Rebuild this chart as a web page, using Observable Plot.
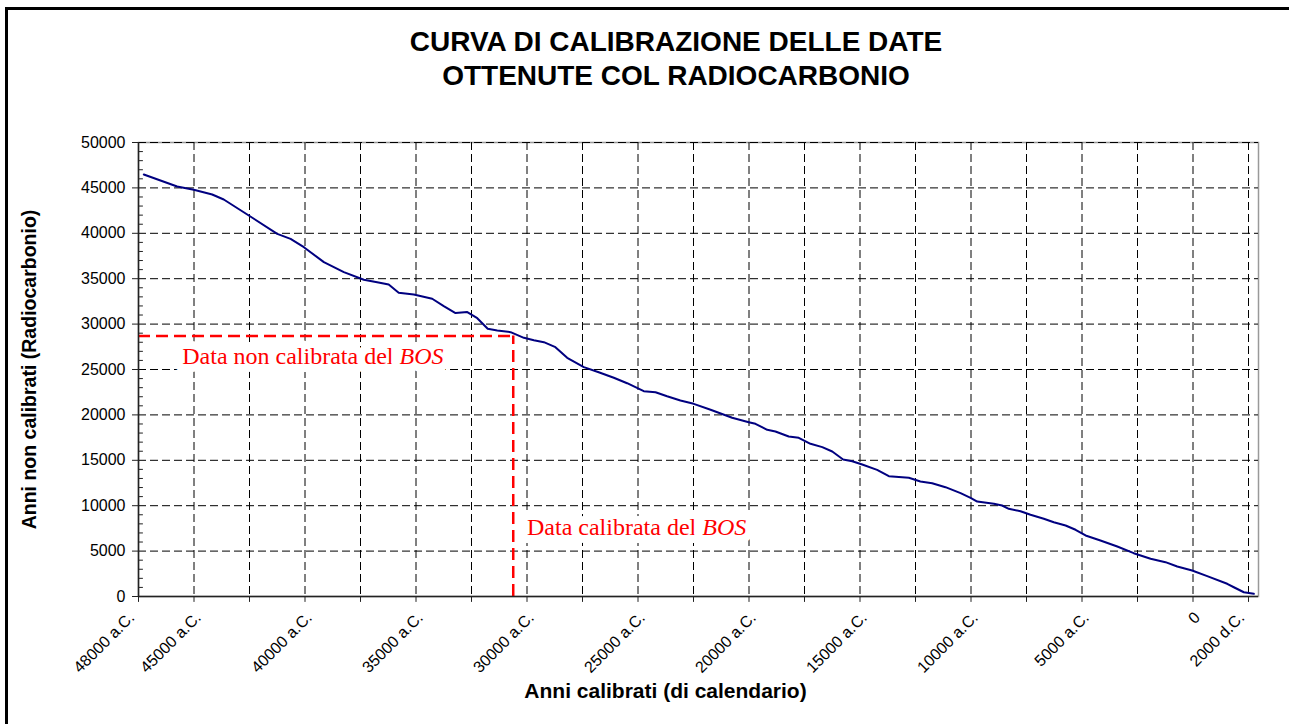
<!DOCTYPE html>
<html>
<head>
<meta charset="utf-8">
<script src="https://cdn.jsdelivr.net/npm/d3@7"></script>
<script src="https://cdn.jsdelivr.net/npm/@observablehq/plot@0.6"></script>
<style>
html, body { margin: 0; padding: 0; background: #fff; overflow: hidden; }
#wrap { position: relative; width: 1289px; height: 724px; overflow: hidden; background: #fff; }
#border { position: absolute; left: 5px; top: 7px; width: 2000px; height: 900px; border: 3px solid #000; box-sizing: border-box; z-index: 5; pointer-events: none; }
#title { position: relative; height: 100px; }
#title div { position: absolute; left: 676px; transform: translateX(-50%); white-space: nowrap;
  font-family: Arial, "Liberation Sans", sans-serif; font-weight: bold; font-size: 28px; line-height: 34px; text-align: center; top: 25px; color: #000; }
#chart svg { display: block; }
</style>
</head>
<body>
<div id="wrap">
  <div id="border"></div>
  <div id="title"><div>CURVA DI CALIBRAZIONE DELLE DATE<br>OTTENUTE COL RADIOCARBONIO</div></div>
  <div id="chart"></div>
</div>
<script>
// Calendar years (negative = a.C.) and uncalibrated radiocarbon years
const calYears = [-47260, -45760, -45010, -44180, -43660, -42460, -41250, -40650, -40050, -39150,
  -38250, -37350, -36750, -36230, -35780, -35100, -34270, -33750, -33220, -32690,
  -32240, -31770, -31340, -30740, -30140, -29690, -29240, -28720, -28190, -27440,
  -26770, -26090, -25490, -24740, -24210, -23690, -23090, -22490, -21730, -20760,
  -20010, -19710, -19180, -18810, -18210, -17760, -17230, -16700, -16250, -15760,
  -15350, -14900, -14230, -13700, -12800, -12280, -11750, -11150, -10470, -10020,
  -9720, -8970, -8600, -8300, -7770, -7320, -6720, -6270, -5740, -5290,
  -4840, -4170, -3410, -2670, -1910, -1240, -710, -40, 640, 1540,
  1840, 2290, 2740];
const radioYears = [46480, 45150, 44790, 44270, 43720, 41850, 39940, 39390, 38470, 36820,
  35720, 34880, 34620, 34360, 33450, 33260, 32790, 31980, 31210, 31320,
  30650, 29480, 29300, 29110, 28490, 28230, 28010, 27460, 26290, 25260,
  24700, 24090, 23490, 22610, 22500, 22060, 21590, 21220, 20560, 19680,
  19200, 19020, 18360, 18170, 17620, 17480, 16820, 16450, 15970, 15090,
  14900, 14540, 13950, 13250, 13070, 12670, 12480, 12040, 11380, 10870,
  10460, 10210, 10020, 9660, 9390, 9000, 8560, 8180, 7820, 7350,
  6720, 6170, 5510, 4770, 4150, 3780, 3300, 2860, 2240, 1400,
  1020, 470, 300];

// BOS date (uncalibrated / calibrated)
const bosRadio = 28700;
const bosCal = -30620;

// Axis configuration
const xDomain = [-47500, 2950];
const yDomain = [0, 50000];
const xGridYears = d3.range(-47500, 2501, 2500);
const yMajor = d3.range(0, 50001, 5000);
const yMinor = d3.range(0, 50001, 1000).filter(v => v % 5000 !== 0);
const xLabelValues = [-48000, -45000, -40000, -35000, -30000, -25000, -20000, -15000, -10000, -5000, 0, 2000];
const xLabelTexts = ["48000 a.C.", "45000 a.C.", "40000 a.C.", "35000 a.C.", "30000 a.C.", "25000 a.C.",
  "20000 a.C.", "15000 a.C.", "10000 a.C.", "5000 a.C.", "0", "2000 d.C."];

// Texts
const xTitle = "Anni calibrati (di calendario)";
const yTitle = "Anni non calibrati (Radiocarbonio)";
const note1 = {text: "Data non calibrata del BOS", x: -45530, y: 26500};
const note2 = {text: "Data calibrata del BOS", x: -30000, y: 7570};

const tickShape = {draw(context, l) { context.moveTo(0, 0); context.lineTo(0, -l); }};
const serif = "'Times New Roman', 'Liberation Serif', serif";
const idx = d3.range(calYears.length);

const chart = Plot.plot({
  width: 1289,
  height: 624,
  marginLeft: 138,
  marginRight: 31,
  marginTop: 42,
  marginBottom: 128,
  style: {fontFamily: "Arial, 'Liberation Sans', sans-serif", fontSize: "16px", color: "#000", background: "#fff"},
  x: {domain: xDomain, axis: null},
  y: {domain: yDomain},
  marks: [
    Plot.frame({stroke: "#999", strokeWidth: 1.5}),
    Plot.gridX(xGridYears.slice(1), {stroke: "#000", strokeOpacity: 1, strokeWidth: 1, strokeDasharray: "8,4"}),
    Plot.gridY(yMajor.slice(1), {stroke: "#000", strokeOpacity: 1, strokeWidth: 1, strokeDasharray: "8,4"}),
    Plot.ruleY([bosRadio], {x1: () => xDomain[0], x2: () => bosCal, stroke: "#ff0000", strokeWidth: 2.5, strokeDasharray: "12,6"}),
    Plot.ruleX([bosCal], {y1: () => 0, y2: () => bosRadio, stroke: "#ff0000", strokeWidth: 2.5, strokeDasharray: "12,6"}),
    Plot.line(idx, {x: i => calYears[i], y: i => radioYears[i], stroke: "#000080", strokeWidth: 2}),
    Plot.text([note1, note2], {x: "x", y: "y", text: "text", textAnchor: "start", fill: "#ff0000",
      fontFamily: serif, fontSize: 24, stroke: "#fff", strokeWidth: 16, strokeLinejoin: "round", paintOrder: "stroke"}),
    Plot.ruleX([xDomain[0]], {stroke: "#222", strokeWidth: 1.5}),
    Plot.ruleY([yDomain[0]], {stroke: "#222", strokeWidth: 1.5}),
    Plot.axisY(yMajor, {tickSize: 6, tickPadding: 7, fontSize: 16, tickFormat: d3.format("d"), label: null, stroke: "#222"}),
    Plot.vector(yMinor, {x: () => xDomain[0], y: d => d, length: 4, rotate: 90, anchor: "start", shape: tickShape, stroke: "#222", strokeWidth: 1}),
    Plot.vector(xGridYears, {x: d => d, y: () => 0, length: 5, rotate: 180, anchor: "start", shape: tickShape, stroke: "#222", strokeWidth: 1}),
    Plot.text(xLabelValues, {x: d => d, frameAnchor: "bottom", text: (d, i) => xLabelTexts[i], rotate: -45,
      textAnchor: "end", dx: 8, dy: 22, fontSize: 16}),
    Plot.text([yTitle], {frameAnchor: "left", text: d => d, rotate: -90, textAnchor: "middle", dx: -109, fontSize: 19.5, fontWeight: "bold"}),
    Plot.text([xTitle], {frameAnchor: "bottom", text: d => d, textAnchor: "middle", dx: -33, dy: 101, fontSize: 21, fontWeight: "bold"})
  ]
});

document.getElementById("chart").appendChild(chart);

// Italic "BOS" in the annotations
const svgNS = "http://www.w3.org/2000/svg";
d3.select(chart).selectAll("text").each(function() {
  const t = this.textContent;
  if (t.endsWith(" BOS") && !this.querySelector("tspan")) {
    this.textContent = t.slice(0, -3);
    const ts = document.createElementNS(svgNS, "tspan");
    ts.setAttribute("font-style", "italic");
    ts.textContent = "BOS";
    this.appendChild(ts);
  }
});
</script>
</body>
</html>
